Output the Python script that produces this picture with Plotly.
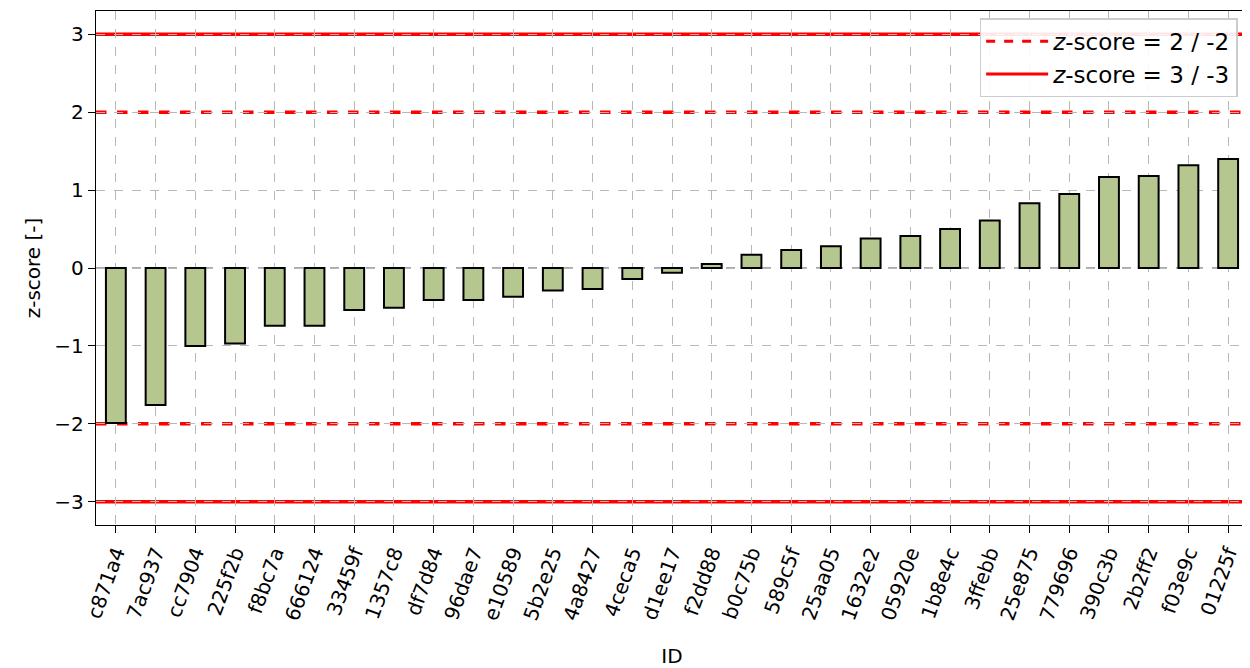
import plotly.graph_objects as go

ids = ["c871a4", "7ac937", "cc7904", "225f2b", "f8bc7a", "666124", "33459f", "1357c8",
       "df7d84", "96dae7", "e10589", "5b2e25", "4a8427", "4ceca5", "d1ee17", "f2dd88",
       "b0c75b", "589c5f", "25aa05", "1632e2", "05920e", "1b8e4c", "3ffebb", "25e875",
       "779696", "390c3b", "2b2ff2", "f03e9c", "01225f"]
zscores = [-1.99, -1.76, -1.00, -0.97, -0.74, -0.74, -0.54, -0.51, -0.41, -0.41,
           -0.37, -0.29, -0.27, -0.14, -0.06, 0.05, 0.17, 0.23, 0.28, 0.38,
           0.41, 0.50, 0.61, 0.83, 0.95, 1.17, 1.18, 1.32, 1.40]
thresholds_2 = [2, -2]
thresholds_3 = [3, -3]
y_tickvals = [-3, -2, -1, 0, 1, 2, 3]
y_ticktext = ["\u22123", "\u22122", "\u22121", "0", "1", "2", "3"]

font = "DejaVu Sans, Liberation Sans, sans-serif"

fig = go.Figure()
fig.add_trace(go.Bar(
    x=ids, y=zscores, width=0.5,
    marker=dict(color="#b5c78f", line=dict(color="black", width=2)),
    showlegend=False,
))

# legend entries
fig.add_trace(go.Scatter(x=[None], y=[None], mode="lines",
                         line=dict(color="red", width=3, dash="dash"),
                         name="<i>z</i>-score = 2 / -2"))
fig.add_trace(go.Scatter(x=[None], y=[None], mode="lines",
                         line=dict(color="red", width=3),
                         name="<i>z</i>-score = 3 / -3"))

for t in thresholds_2:
    fig.add_shape(type="line", xref="paper", x0=0, x1=1, yref="y", y0=t, y1=t,
                  line=dict(color="red", width=3.5, dash="dash"), layer="below")
for t in thresholds_3:
    fig.add_shape(type="line", xref="paper", x0=0, x1=1, yref="y", y0=t, y1=t,
                  line=dict(color="red", width=3.5), layer="below")
fig.add_shape(type="line", xref="paper", x0=0, x1=1, yref="y", y0=0, y1=0,
              line=dict(color="#555555", width=1.2, dash="dash"), layer="below")

fig.update_layout(
    width=1242, height=660,
    margin=dict(l=88, r=2, t=3, b=143),
    paper_bgcolor="white", plot_bgcolor="white",
    font=dict(family=font, size=20, color="black"),
    legend=dict(x=0.991, y=0.986, xanchor="right", yanchor="top",
                bgcolor="rgba(255,255,255,0.9)", bordercolor="#cccccc", borderwidth=1.5,
                font=dict(size=23), itemwidth=62, tracegroupgap=2),
)
fig.update_xaxes(
    type="category", range=[-0.5, len(ids) - 0.5], automargin=False,
    tickangle=-70, ticks="outside", ticklen=7, tickwidth=1.4, tickcolor="black",
    showline=True, linecolor="black", linewidth=1.4, mirror=True,
    showgrid=True, gridcolor="#b8b8b8", griddash="dash", gridwidth=1,
    title=dict(text="ID", font=dict(size=20), standoff=28),
    tickfont=dict(size=20),
)
fig.update_yaxes(
    range=[-3.3, 3.3], tickvals=y_tickvals, ticktext=y_ticktext, automargin=False,
    ticks="outside", ticklen=7, tickwidth=1.4, tickcolor="black",
    showline=True, linecolor="black", linewidth=1.4, mirror=True,
    showgrid=True, gridcolor="#b8b8b8", griddash="dash", gridwidth=1,
    zeroline=False,
    title=dict(text="z-score [-]", font=dict(size=20), standoff=8),
    tickfont=dict(size=20),
)

fig.write_html("out.html")
